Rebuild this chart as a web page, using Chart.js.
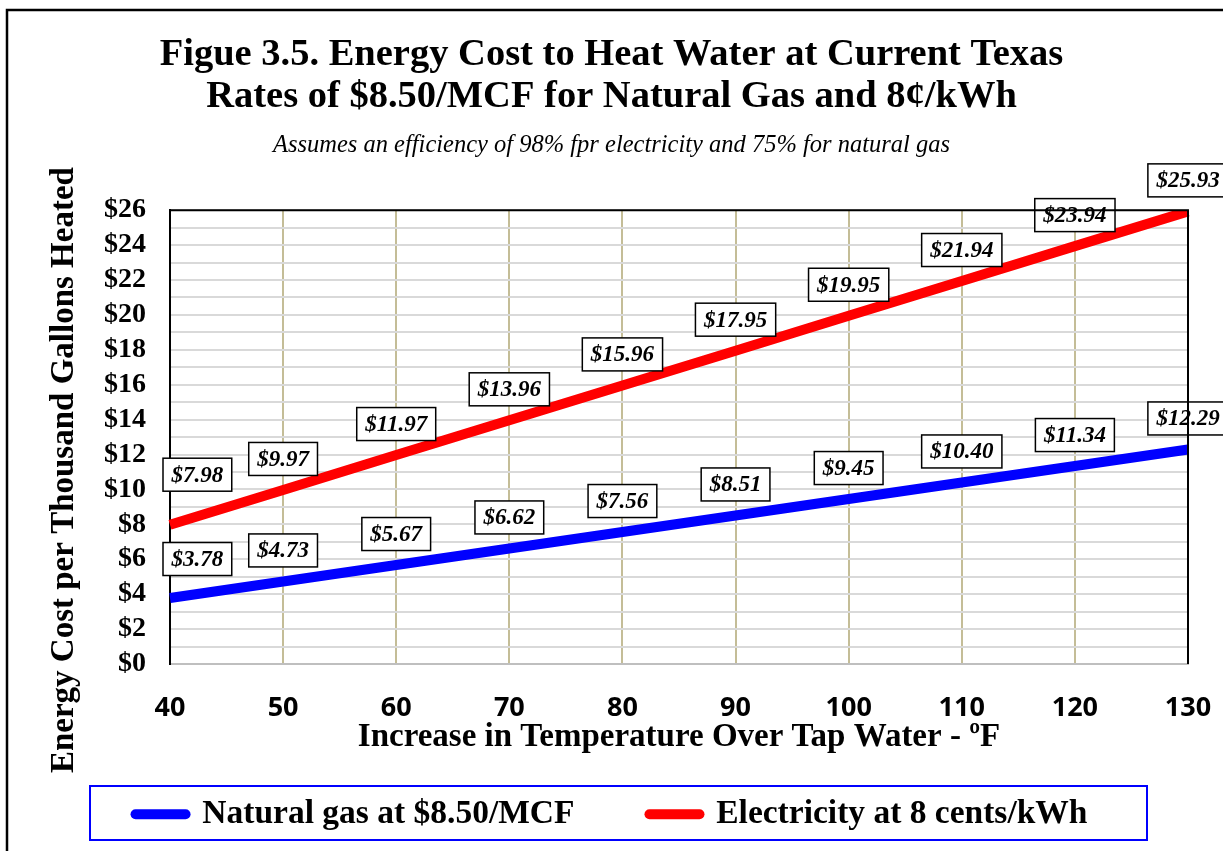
<!DOCTYPE html>
<html>
<head>
<meta charset="utf-8">
<script src="https://cdn.jsdelivr.net/npm/chart.js@4.4.1/dist/chart.umd.min.js"></script>
<style>
  html, body { margin: 0; padding: 0; background: #fff; }
  #wrap { width: 1223px; height: 851px; position: relative; }
</style>
</head>
<body>
<div id="wrap"><canvas id="grafico" width="1223" height="851"></canvas></div>
<script>
// dados
const temperaturas = ['40', '50', '60', '70', '80', '90', '100', '110', '120', '130'];
const gasNatural = [3.78, 4.73, 5.67, 6.62, 7.56, 8.51, 9.45, 10.40, 11.34, 12.29];
const eletricidade = [7.98, 9.97, 11.97, 13.96, 15.96, 17.95, 19.95, 21.94, 23.94, 25.93];
const nomesSeries = ['Natural gas at $8.50/MCF', 'Electricity at 8 cents/kWh'];
const coresSeries = ['#0000ff', '#ff0000'];

const SERIF = "'Liberation Serif', 'Times New Roman', serif";

// caixinhas com os valores acima de cada ponto
const rotulos = {
    id: 'rotulos',
    afterDatasetsDraw(chart) {
        const ctx = chart.ctx;
        const area = chart.chartArea;
        ctx.save();
        ctx.font = "italic bold 23px " + SERIF;
        ctx.textAlign = 'center';
        ctx.textBaseline = 'middle';
        chart.data.datasets.forEach((ds, i) => {
            const meta = chart.getDatasetMeta(i);
            meta.data.forEach((pt, j) => {
                const txt = '$' + ds.data[j].toFixed(2);
                const w = ctx.measureText(txt).width + 17;
                const h = 33;
                let cx = pt.x;
                if (cx - w / 2 < area.left - 7) cx = area.left - 7 + w / 2;
                // no Excel os dois primeiros rótulos foram puxados mais pra cima
                let desloc = 31;
                if (j === 0) desloc = i === 0 ? 39 : 50;
                const cy = pt.y - desloc;
                ctx.fillStyle = '#fff';
                ctx.fillRect(cx - w / 2, cy - h / 2, w, h);
                ctx.strokeStyle = '#000';
                ctx.lineWidth = 1.5;
                ctx.strokeRect(cx - w / 2, cy - h / 2, w, h);
                ctx.fillStyle = '#000';
                ctx.fillText(txt, cx, cy + 1);
            });
        });
        ctx.restore();
    }
};

// moldura do gráfico, borda da área de plotagem e caixa da legenda
const molduras = {
    id: 'molduras',
    afterDraw(chart) {
        const ctx = chart.ctx;
        const a = chart.chartArea;
        ctx.save();
        ctx.strokeStyle = '#000';
        ctx.lineWidth = 2;
        ctx.beginPath();
        ctx.moveTo(a.left, a.top);
        ctx.lineTo(a.right, a.top);
        ctx.lineTo(a.right, a.bottom);
        ctx.stroke();
        // moldura externa
        ctx.lineWidth = 2.5;
        ctx.beginPath();
        ctx.moveTo(7, chart.height);
        ctx.lineTo(7, 10);
        ctx.lineTo(chart.width, 10);
        ctx.stroke();
        // caixa da legenda
        ctx.strokeStyle = '#0000ff';
        ctx.lineWidth = 2;
        ctx.strokeRect(90, 786, 1057, 54);
        ctx.restore();
    }
};

new Chart(document.getElementById('grafico').getContext('2d'), {
    type: 'line',
    data: {
        labels: temperaturas,
        datasets: [{
            label: nomesSeries[0],
            data: gasNatural,
            borderColor: coresSeries[0],
            backgroundColor: coresSeries[0],
            borderWidth: 10,
            pointRadius: 0,
            tension: 0
        }, {
            label: nomesSeries[1],
            data: eletricidade,
            borderColor: coresSeries[1],
            backgroundColor: coresSeries[1],
            borderWidth: 10,
            pointRadius: 0,
            tension: 0
        }]
    },
    options: {
        responsive: false,
        animation: false,
        layout: { padding: { left: 0, right: 0, top: 0, bottom: 10 } },
        plugins: {
            title: {
                display: true,
                text: ['Figue 3.5. Energy Cost to Heat Water at Current Texas',
                       'Rates of $8.50/MCF for Natural Gas and 8¢/kWh'],
                color: '#000',
                font: { family: SERIF, size: 38.5, weight: 'bold', lineHeight: 1.1 },
                padding: { top: 34, bottom: 13 }
            },
            subtitle: {
                display: true,
                text: 'Assumes an efficiency of 98% fpr electricity and 75% for natural gas',
                color: '#000',
                font: { family: SERIF, size: 24.5, style: 'italic', lineHeight: 1.1 },
                padding: { top: 0, bottom: 51.5 }
            },
            legend: {
                position: 'bottom',
                labels: {
                    padding: 75,
                    usePointStyle: true,
                    pointStyleWidth: 50,
                    color: '#000',
                    font: { family: SERIF, size: 33.5, weight: 'bold' },
                    generateLabels(chart) {
                        return chart.data.datasets.map((ds, i) => ({
                            text: ds.label,
                            fillStyle: ds.borderColor,
                            strokeStyle: ds.borderColor,
                            lineWidth: 10,
                            lineCap: 'round',
                            pointStyle: 'line',
                            datasetIndex: i,
                            fontColor: '#000'
                        }));
                    }
                }
            },
            tooltip: { enabled: false }
        },
        scales: {
            x: {
                offset: false,
                grid: { color: '#c4bd97', lineWidth: 2, drawTicks: false },
                border: { color: '#bfbfbf', width: 2 },
                ticks: {
                    color: '#000',
                    padding: 28,
                    maxRotation: 0,
                    font: { family: "'Open Sans', sans-serif", size: 27, weight: 'bold' }
                },
                title: {
                    display: true,
                    text: 'Increase in Temperature Over Tap Water - ºF',
                    color: '#000',
                    font: { family: SERIF, size: 33, weight: 'bold', lineHeight: 1.1 },
                    padding: { top: 0, bottom: -33.5 }
                },
                afterFit(scale) {
                    scale.height = 58.5;
                    scale.paddingLeft = 0;
                    scale.paddingRight = 35;
                }
            },
            y: {
                min: 0,
                max: 26,
                grid: { color: '#d9d9d9', lineWidth: 2, drawTicks: false },
                border: { color: '#000', width: 2 },
                ticks: {
                    stepSize: 1,
                    autoSkip: false,
                    color: '#000',
                    padding: 24,
                    font: { family: SERIF, size: 28, weight: 'bold' },
                    callback: (v) => (v % 2 === 0 ? '$' + v : '')
                },
                title: {
                    display: true,
                    // espaços no fim empurram o texto para baixo, como no original
                    text: 'Energy Cost per Thousand Gallons Heated        ',
                    color: '#000',
                    font: { family: SERIF, size: 33, weight: 'bold', lineHeight: 1.1 },
                    padding: { top: 46, bottom: 0 }
                },
                afterFit(scale) { scale.width = 170; }
            }
        }
    },
    plugins: [rotulos, molduras]
});
</script>
</body>
</html>
